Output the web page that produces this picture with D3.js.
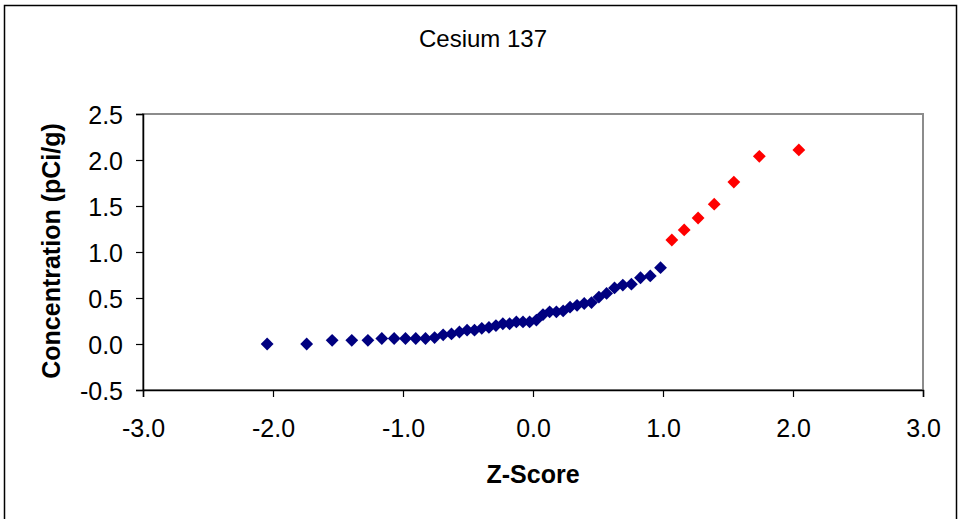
<!DOCTYPE html>
<html><head><meta charset="utf-8">
<script src="https://cdn.jsdelivr.net/npm/d3@7"></script>
<style>html,body{margin:0;padding:0;background:#fff;}svg{display:block;}</style>
</head><body>
<svg id="c" width="958" height="519"></svg>
<script>
const title = "Cesium 137";
const xTitle = "Z-Score";
const yTitle = "Concentration (pCi/g)";
const xTicks = [-3, -2, -1, 0, 1, 2, 3];
const yTicks = [-0.5, 0, 0.5, 1.0, 1.5, 2.0, 2.5];

const blueZ = [-2.045, -1.741, -1.545, -1.394, -1.270, -1.163, -1.068, -0.981, -0.902, -0.827,
  -0.757, -0.691, -0.627, -0.566, -0.507, -0.450, -0.394, -0.339, -0.285, -0.232,
  -0.180, -0.128, -0.077, -0.026, 0.026, 0.077, 0.128, 0.180, 0.232, 0.285,
  0.339, 0.394, 0.450, 0.507, 0.566, 0.627, 0.691, 0.757, 0.827, 0.902, 0.981];
const blueC = [0.00, 0.00, 0.04, 0.04, 0.04, 0.06, 0.06, 0.06, 0.06, 0.06,
  0.07, 0.10, 0.11, 0.13, 0.15, 0.15, 0.17, 0.18, 0.20, 0.22,
  0.22, 0.24, 0.24, 0.24, 0.26, 0.32, 0.35, 0.35, 0.36, 0.40,
  0.42, 0.44, 0.45, 0.51, 0.55, 0.61, 0.64, 0.65, 0.72, 0.74, 0.83];
const redZ = [1.068, 1.163, 1.270, 1.394, 1.545, 1.741, 2.045];
const redC = [1.13, 1.24, 1.37, 1.52, 1.76, 2.04, 2.11];

const svg = d3.select("#c");
const font = "'Liberation Sans', Arial, sans-serif";
const L = 143, R = 923, T = 114, B = 390;
const x = d3.scaleLinear().domain([-3, 3]).range([L, R]);
const y = d3.scaleLinear().domain([-0.5, 2.5]).range([B, T]);
const fmt = d => d3.format(".1f")(d).replace("\u2212", "-");

// outer border
svg.append("rect").attr("x", 4.5).attr("y", 5.5).attr("width", 952).attr("height", 530)
  .attr("fill", "none").attr("stroke", "#000").attr("stroke-width", 1.5);

// plot frame (grey top/right)
svg.append("rect").attr("x", L).attr("y", T).attr("width", R - L).attr("height", B - T)
  .attr("fill", "#fff").attr("stroke", "#8c8c8c").attr("stroke-width", 2);

// axes
const xAxis = d3.axisBottom(x).tickValues(xTicks).tickSize(7).tickPadding(0).tickFormat(fmt);
const yAxis = d3.axisLeft(y).tickValues(yTicks).tickSize(7).tickPadding(0).tickFormat(fmt);
const gx = svg.append("g").attr("transform", `translate(0,${B})`).call(xAxis);
const gy = svg.append("g").attr("transform", `translate(${L},0)`).call(yAxis);
[gx, gy].forEach(g => {
  g.select(".domain").attr("stroke", "#000").attr("stroke-width", 1.5);
  g.selectAll(".tick line").attr("stroke", "#000").attr("stroke-width", 1.2);
  g.selectAll(".tick text").attr("fill", "#000").attr("font-family", font).attr("font-size", 25);
});
gx.selectAll(".tick text").attr("y", 47).attr("dy", null);
gy.selectAll(".tick text").attr("x", -20).attr("dy", null).attr("y", 9);

// markers
const sym = d3.symbol().type(d3.symbolDiamond2).size(105);
const pts = (zs, cs) => zs.map((z, i) => ({z, c: cs[i]}));
svg.append("g").selectAll("path").data(pts(blueZ, blueC)).join("path")
  .attr("d", sym).attr("fill", "#000080")
  .attr("transform", d => `translate(${x(d.z)},${y(d.c)})`);
svg.append("g").selectAll("path").data(pts(redZ, redC)).join("path")
  .attr("d", sym).attr("fill", "#ff0000")
  .attr("transform", d => `translate(${x(d.z)},${y(d.c)})`);

// titles
svg.append("text").attr("x", 483).attr("y", 47).attr("text-anchor", "middle")
  .attr("font-family", font).attr("font-size", 24).text(title);
svg.append("text").attr("x", 533).attr("y", 483).attr("text-anchor", "middle")
  .attr("font-family", font).attr("font-size", 25).attr("font-weight", "bold").text(xTitle);
svg.append("text").attr("transform", "translate(60,251) rotate(-90)").attr("text-anchor", "middle")
  .attr("font-family", font).attr("font-size", 25).attr("font-weight", "bold").text(yTitle);
</script>
</body></html>
